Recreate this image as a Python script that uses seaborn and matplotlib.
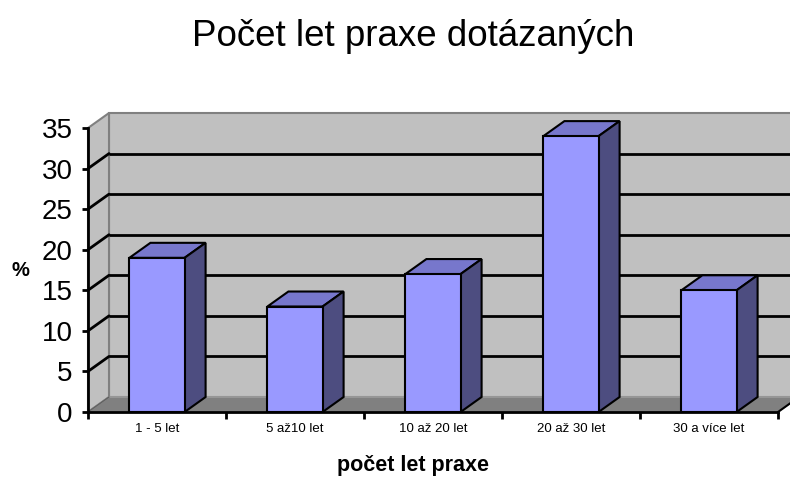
import matplotlib
matplotlib.use("Agg")
import matplotlib.pyplot as plt
import seaborn as sns
import pandas as pd
from matplotlib.patches import Polygon, Rectangle

categories = ["1 - 5 let", "5 až10 let", "10 až 20 let", "20 až 30 let", "30 a více let"]
values = [19, 13, 17, 34, 15]
y_ticks = [0, 5, 10, 15, 20, 25, 30, 35]

sns.set_theme(style="white")
plt.rcParams['font.family'] = ['Liberation Sans', 'DejaVu Sans']
plt.rcParams['text.color'] = 'black'
plt.rcParams['xtick.color'] = 'black'
plt.rcParams['ytick.color'] = 'black'
plt.rcParams['xtick.labelcolor'] = 'black'
plt.rcParams['ytick.labelcolor'] = 'black'

W, H = 790, 478
fig = plt.figure(figsize=(W / 100, H / 100), dpi=100)
x0, x1, y0, y1 = 88, 778, 412, 128
ax = fig.add_axes([x0 / W, 1 - y0 / H, (x1 - x0) / W, (y0 - y1) / H])
ax.set_facecolor('none')

df = pd.DataFrame({"cat": categories, "val": values})
sns.barplot(data=df, x="cat", y="val", color="#9999ff", saturation=1, width=0.4,
            edgecolor="black", linewidth=1.5, ax=ax, zorder=5)
bar_patches = list(ax.patches)

ax.set_xlim(-0.5, 4.5)
ax.set_ylim(0, 35)

# depth offsets in data units
DXP, DYP = 21, 15
dx = DXP / ((x1 - x0) / 5.0)
dy = DYP / ((y0 - y1) / 35.0)
xl, xr = -0.5, 4.5
ymax = 35

# back wall
ax.add_patch(Rectangle((xl + dx, dy), xr - xl, ymax, facecolor="#c0c0c0",
                       edgecolor="#808080", linewidth=1.5, zorder=0, clip_on=False))
# left side wall
ax.add_patch(Polygon([(xl, 0), (xl, ymax), (xl + dx, ymax + dy), (xl + dx, dy)],
                     closed=True, facecolor="#c0c0c0", edgecolor="#808080",
                     linewidth=1.5, zorder=0, clip_on=False))
# floor
ax.add_patch(Polygon([(xl, 0), (xr, 0), (xr + dx, dy), (xl + dx, dy)], closed=True,
                     facecolor="#808080", edgecolor="#a0a0a0", linewidth=1.0,
                     zorder=1, clip_on=False))
# gridlines on back wall and left wall
for t in y_ticks[1:-1]:
    ax.plot([xl + dx, xr + dx], [t + dy, t + dy], color="black", linewidth=2,
            zorder=2, clip_on=False, solid_capstyle="butt")
    ax.plot([xl, xl + dx], [t, t + dy], color="black", linewidth=2,
            zorder=2, clip_on=False)
ax.plot([xl, xl + dx], [0, dy], color="#606060", linewidth=1, zorder=2, clip_on=False)
ax.plot([xr, xr + dx], [0, dy], color="black", linewidth=1.5, zorder=2, clip_on=False)

# 3D faces of bars
for p in bar_patches:
    bx, bw, bh = p.get_x(), p.get_width(), p.get_height()
    top = Polygon([(bx, bh), (bx + bw, bh), (bx + bw + dx, bh + dy), (bx + dx, bh + dy)],
                  closed=True, facecolor="#7777cc", edgecolor="black", linewidth=1.5,
                  zorder=4, clip_on=False)
    side = Polygon([(bx + bw, 0), (bx + bw, bh), (bx + bw + dx, bh + dy), (bx + bw + dx, dy)],
                   closed=True, facecolor="#4d4d80", edgecolor="black", linewidth=1.5,
                   zorder=4, clip_on=False)
    ax.add_patch(top)
    ax.add_patch(side)

# axes spines
for s in ["top", "right"]:
    ax.spines[s].set_visible(False)
for s in ["left", "bottom"]:
    ax.spines[s].set_color("black")
    ax.spines[s].set_linewidth(2)
    ax.spines[s].set_zorder(6)

ax.set_yticks(y_ticks)
ax.set_yticklabels([str(t) for t in y_ticks], fontsize=20, color="black")
ax.tick_params(axis="y", direction="out", length=4, width=2, color="black", pad=7,
               left=True)
ax.set_xticks([-0.5, 0.5, 1.5, 2.5, 3.5, 4.5], minor=False)
ax.set_xticklabels([])
ax.set_xticks(range(5), minor=True)
ax.set_xticklabels(categories, minor=True, fontsize=9.5, color="black")
ax.tick_params(axis="x", which="major", direction="out", length=5, width=2,
               color="black", bottom=True)
ax.tick_params(axis="x", which="minor", length=0, pad=8)
ax.set_xlabel("")
ax.set_ylabel("")

fig.text(413 / W, 1 - 37 / H, "Počet let praxe dotázaných", fontsize=26.5,
         ha="center", va="center", color="black")
fig.text(413 / W, 1 - 465 / H, "počet let praxe", fontsize=15.5, fontweight="bold",
         ha="center", va="center", color="black")
fig.text(20 / W, 1 - 270 / H, "%", fontsize=14.5, fontweight="bold",
         ha="center", va="center", color="black")

fig.savefig("out.png", dpi=100, facecolor="white")
